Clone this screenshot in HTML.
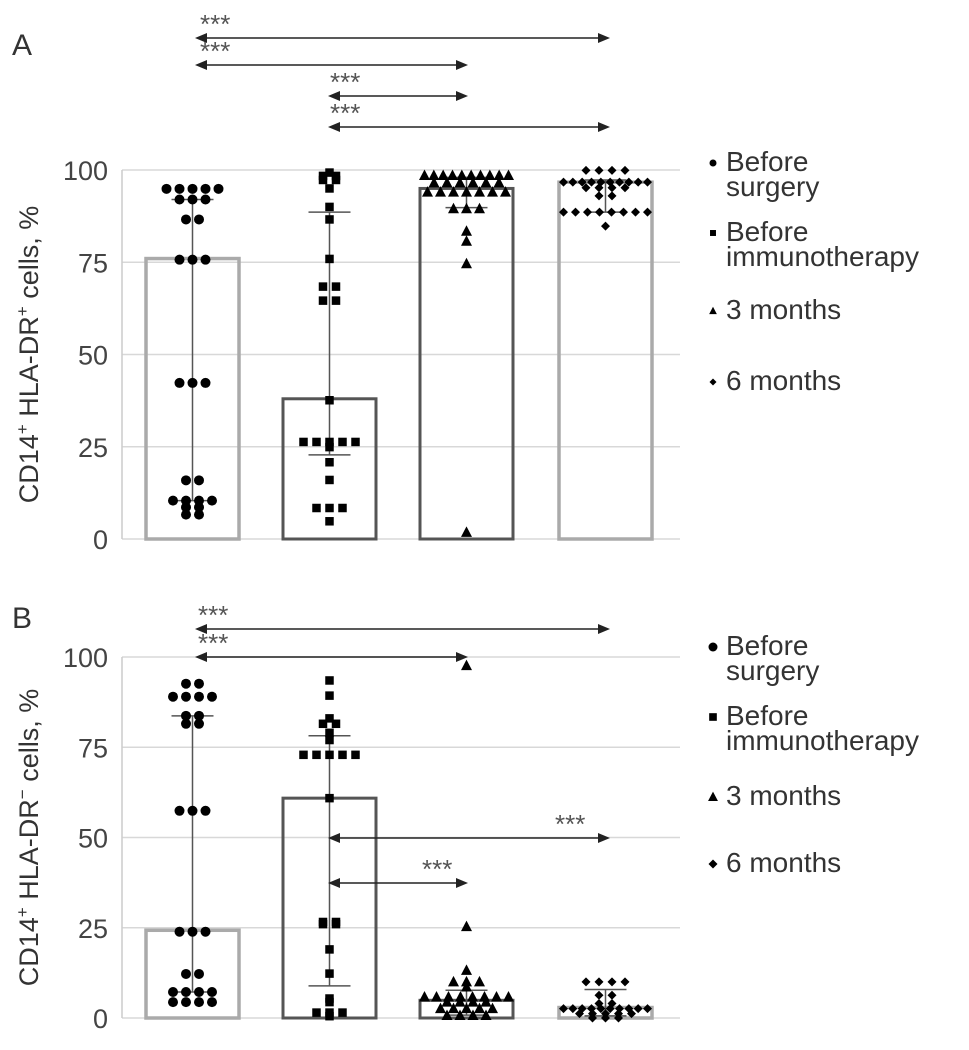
<!DOCTYPE html>
<html><head><meta charset="utf-8"><style>
body{margin:0;background:#fff;font-family:"Liberation Sans",Arial,sans-serif}
svg{display:block}
text{font-family:"Liberation Sans",Arial,sans-serif}
</style></head><body>
<svg id="c" width="969" height="1050" viewBox="0 0 969 1050"></svg>
<script>
const categories=["Before surgery","Before immunotherapy","3 months","6 months"];
const ticks=[0,25,50,75,100];
const barsA=[76,38,95,96.7];
const errLowA=[10.4,22.8,89.8,88.6];
const errHighA=[92,88.6,98,97.3];
const ptsA0=[94.9,94.9,94.9,94.9,94.9,92,92,92,86.6,86.6,75.7,75.7,75.7,42.3,42.3,42.3,15.9,15.9,10.4,10.4,10.4,10.4,8.6,8.6,6.6,6.6];
const ptsA1=[99.3,98.4,98.4,97.3,97.3,95,90,86.6,75.9,68.4,68.4,64.6,64.6,37.6,26.3,26.3,26.3,26.3,26.3,24.9,20.8,16,8.4,8.4,8.4,4.8];
const ptsA2=[98.5,98.5,98.5,98.5,98.5,98.5,98.5,98.5,98.5,98.5,96.5,96.5,96.5,96.5,96.5,96.5,94,94,94,94,94,94,94,89.5,89.5,89.5,83.4,80.7,74.6,1.8];
const ptsA3=[99.9,99.9,99.9,99.9,96.7,96.7,96.7,96.7,96.7,96.7,96.7,96.7,96.7,96.7,95.2,95.2,95.2,95.2,93,93,88.6,88.6,88.6,88.6,88.6,88.6,88.6,88.6,84.8];
const barsB=[24.3,60.9,4.9,2.9];
const errLowB=[7.2,8.9,0.8,0.6];
const errHighB=[83.7,78.2,7.7,7.9];
const ptsB0=[92.6,92.6,89,89,89,89,83.7,83.7,81.5,81.5,57.4,57.4,57.4,23.9,23.9,23.9,12.2,12.2,7.2,7.2,7.2,7.2,4.4,4.4,4.4,4.4];
const ptsB1=[93.5,89.3,83,81.5,81.5,79,77,72.9,72.9,72.9,72.9,72.9,60.9,26.6,26.6,26,26,19,12.3,5.4,4.4,1.5,1.5,1.5,0.5];
const ptsB2=[97.6,25.3,13.2,10,10,10,8.6,5.8,5.8,5.8,5.8,5.8,5.8,5.8,5.8,4.4,4.4,4.4,4.4,2.6,2.6,2.6,2.6,2.6,0.7,0.7,0.7,0.7];
const ptsB3=[10,10,10,10,6.3,6.3,4,4,2.6,2.6,2.6,2.6,2.6,2.6,2.6,2.6,2.6,2.6,1.2,1.2,1.2,1.2,1.2,0,0,0];
const sigA=[[0,3],[0,2],[1,2],[1,3]];
const sigB=[[0,3],[0,2],[1,3],[1,2]];

const NS="http://www.w3.org/2000/svg";
const svg=document.getElementById('c');
function mk(t,a,p){const e=document.createElementNS(NS,t);for(const k in a)e.setAttribute(k,a[k]);(p||svg).appendChild(e);return e;}
const barL=[146,283,420,559],barW=93;
const cx=i=>barL[i]+barW/2;
const barStroke=["#aaa","#555","#555","#aaa"];
const shapes=["circle","square","triangle","diamond"];

function marker(g,shape,x,y,s){
  let e;
  if(shape==="circle")e=mk('circle',{cx:x,cy:y,r:s,fill:'#000'},g);
  else if(shape==="square")e=mk('rect',{x:x-s*0.85,y:y-s*0.85,width:s*1.7,height:s*1.7,fill:'#000'},g);
  else if(shape==="triangle")e=mk('polygon',{points:`${x},${y-s*1.2} ${x-s*1.1},${y+s*0.9} ${x+s*1.1},${y+s*0.9}`,fill:'#000'},g);
  else e=mk('polygon',{points:`${x},${y-s} ${x-s},${y} ${x},${y+s} ${x+s},${y}`,fill:'#000'},g);
  return e;
}

function panel(opt){
  const {y0,y100,bars,lo,hi,pts,sig,sigY,starsPos,label,labY,sup,legY}=opt;
  const ys=v=>y0+(y100-y0)*v/100;
  const g=mk('g',{});
  
  
  const pl=mk('text',{x:12,y:labY,'font-size':30,fill:'#333'},g);pl.textContent=label;
  
  ticks.forEach(t=>{
    const l=mk('line',{x1:122,x2:680,y1:ys(t),y2:ys(t),stroke:'#d8d8d8','stroke-width':1.5},g);
    
    const tx=mk('text',{x:108,y:ys(t)+10,'font-size':27,'text-anchor':'end',fill:'#444'},g);tx.textContent=t;
    
  });
  const ax=mk('line',{x1:122,x2:122,y1:ys(100),y2:ys(0),stroke:'#ccc','stroke-width':1.5},g);
  
  const tt=mk('text',{x:0,y:0,'font-size':27,fill:'#333','text-anchor':'middle',transform:`translate(38,${(ys(0)+ys(100))/2}) rotate(-90)`},g);
  tt.innerHTML=`CD14<tspan dy="-10" font-size="17">+</tspan><tspan dy="10"> HLA-DR</tspan><tspan dy="-10" font-size="17">${sup}</tspan><tspan dy="10"> cells, %</tspan>`;
  
  bars.forEach((v,i)=>{
    const r=mk('rect',{x:barL[i],y:ys(v),width:barW,height:ys(0)-ys(v),fill:'none',stroke:barStroke[i],'stroke-width':i===1||i===2?3:3.5},g);
    
    const eg=mk('g',{stroke:'#555','stroke-width':1.5},g);
    
    mk('line',{x1:cx(i),x2:cx(i),y1:ys(hi[i]),y2:ys(lo[i])},eg);
    mk('line',{x1:cx(i)-21,x2:cx(i)+21,y1:ys(hi[i]),y2:ys(hi[i])},eg);
    mk('line',{x1:cx(i)-21,x2:cx(i)+21,y1:ys(lo[i]),y2:ys(lo[i])},eg);
  });
  pts.forEach((arr,i)=>{
    const grp={};arr.forEach(v=>{grp[v]=(grp[v]||0)+1;});
    const idx={};
    const pg=mk('g',{},g);
    
    arr.forEach(v=>{
      const n=grp[v];const k=idx[v]=(idx[v]===undefined?0:idx[v]+1);
      const sp=Math.min(13,84/Math.max(n-1,1));
      const x=cx(i)+(k-(n-1)/2)*sp;
      const m=marker(pg,shapes[i],x,ys(v),i===3?4.5:5);
      
      
    });
  });
  sig.forEach((s,j)=>{
    const y=sigY[j];
    const x1=s[0]===0?195:328, x2=s[1]===3?610:468;
    const sg=mk('g',{},g);
    
    mk('line',{x1:x1+8,x2:x2-8,y1:y,y2:y,stroke:'#222','stroke-width':1.5},sg);
    mk('polygon',{points:`${x1},${y} ${x1+12},${y-5} ${x1+12},${y+5}`,fill:'#222'},sg);
    mk('polygon',{points:`${x2},${y} ${x2-12},${y-5} ${x2-12},${y+5}`,fill:'#222'},sg);
    const st=mk('text',{x:starsPos[j],y:y-5,'font-size':26,fill:'#555'},sg);st.textContent='***';
  });
  const lg=mk('g',{},g);
  
  const entries=[["Before","surgery"],["Before","immunotherapy"],["3 months"],["6 months"]];
  entries.forEach((e,i)=>{
    const eg=mk('g',{},lg);
    
    marker(eg,shapes[i],713,legY[i]-8,label==='A'?3.5:4.5);
    const t=mk('text',{x:726,y:legY[i],'font-size':28,fill:'#333'},eg);t.textContent=e[0];
    if(e[1]){const t2=mk('text',{x:726,y:legY[i]+25,'font-size':28,fill:'#333'},eg);t2.textContent=e[1];}
  });
}
panel({y0:539,y100:170,bars:barsA,lo:errLowA,hi:errHighA,pts:[ptsA0,ptsA1,ptsA2,ptsA3],sig:sigA,sigY:[38,65,96,127],starsPos:[200,200,330,330],label:'A',labY:55,sup:'+',legY:[171,241,319,390]});
panel({y0:1018,y100:657,bars:barsB,lo:errLowB,hi:errHighB,pts:[ptsB0,ptsB1,ptsB2,ptsB3],sig:sigB,sigY:[629,657,838,883],starsPos:[198,198,555,422],label:'B',labY:628,sup:'−',legY:[655,725,805,872]});
</script>
</body></html>
